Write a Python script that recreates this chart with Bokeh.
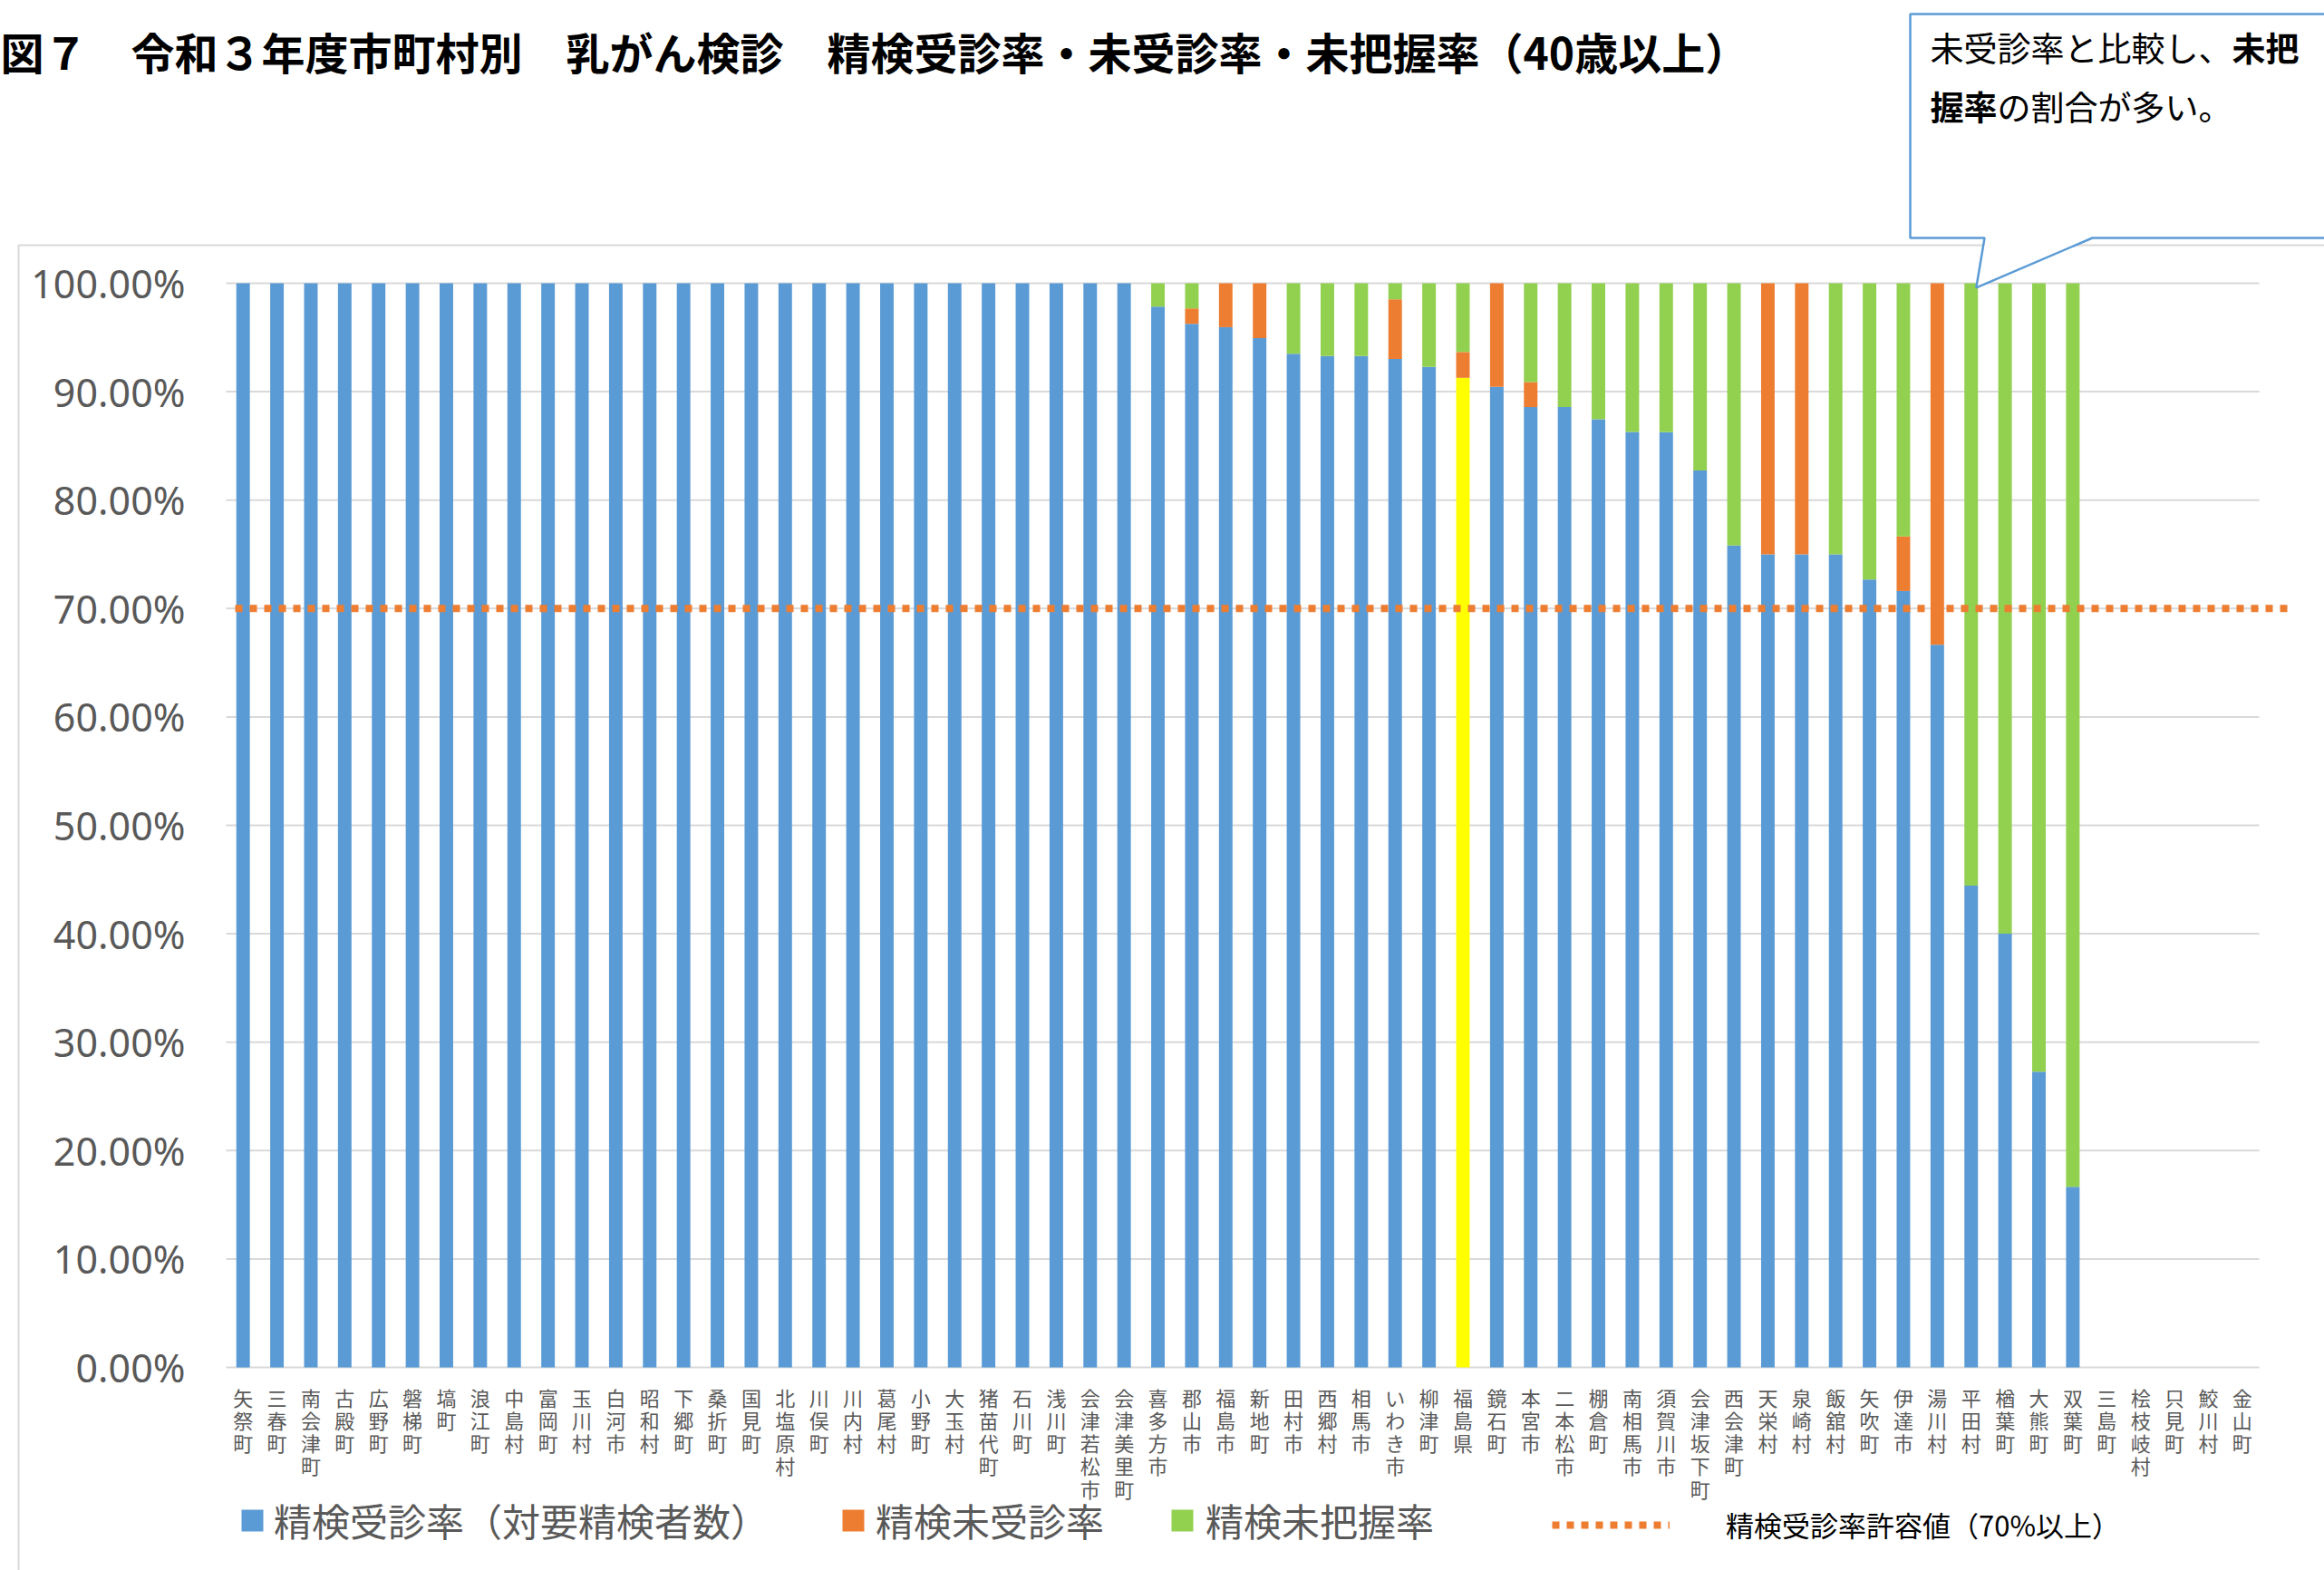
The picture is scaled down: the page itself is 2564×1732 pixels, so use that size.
from bokeh.plotting import figure
from bokeh.models import (Range1d, FixedTicker, PrintfTickFormatter, Label, Legend,
                          LegendItem, PolyAnnotation, ColumnDataSource)
from bokeh.embed import file_html
from bokeh.resources import INLINE

# ---------------- data ----------------
categories = [
    "矢祭町", "三春町", "南会津町", "古殿町", "広野町", "磐梯町", "塙町", "浪江町", "中島村", "富岡町",
    "玉川村", "白河市", "昭和村", "下郷町", "桑折町", "国見町", "北塩原村", "川俣町", "川内村", "葛尾村",
    "小野町", "大玉村", "猪苗代町", "石川町", "浅川町", "会津若松市", "会津美里町", "喜多方市", "郡山市", "福島市",
    "新地町", "田村市", "西郷村", "相馬市", "いわき市", "柳津町", "福島県", "鏡石町", "本宮市", "二本松市",
    "棚倉町", "南相馬市", "須賀川市", "会津坂下町", "西会津町", "天栄村", "泉崎村", "飯舘村", "矢吹町", "伊達市",
    "湯川村", "平田村", "楢葉町", "大熊町", "双葉町", "三島町", "桧枝岐村", "只見町", "鮫川村", "金山町",
]
# 精検受診率（対要精検者数）
received = [
    100, 100, 100, 100, 100, 100, 100, 100, 100, 100,
    100, 100, 100, 100, 100, 100, 100, 100, 100, 100,
    100, 100, 100, 100, 100, 100, 100, 97.85, 96.26, 95.95,
    94.94, 93.49, 93.30, 93.30, 93.02, 92.29, 91.28, 90.45, 88.58, 88.58,
    87.46, 86.28, 86.26, 82.74, 75.81, 75.00, 75.00, 75.00, 72.68, 71.62,
    66.67, 44.44, 40.00, 27.27, 16.67, 0, 0, 0, 0, 0,
]
# 精検未受診率
not_received = [
    0, 0, 0, 0, 0, 0, 0, 0, 0, 0,
    0, 0, 0, 0, 0, 0, 0, 0, 0, 0,
    0, 0, 0, 0, 0, 0, 0, 0, 1.42, 4.05,
    5.06, 0, 0, 0, 5.50, 0, 2.38, 9.55, 2.31, 0,
    0, 0, 0, 0, 0, 25.00, 25.00, 0, 0, 5.03,
    33.33, 0, 0, 0, 0, 0, 0, 0, 0, 0,
]
# 精検未把握率
unknown = [
    0, 0, 0, 0, 0, 0, 0, 0, 0, 0,
    0, 0, 0, 0, 0, 0, 0, 0, 0, 0,
    0, 0, 0, 0, 0, 0, 0, 2.15, 2.32, 0,
    0, 6.51, 6.70, 6.70, 1.48, 7.71, 6.34, 0, 9.11, 11.42,
    12.54, 13.72, 13.74, 17.26, 24.19, 0, 0, 25.00, 27.32, 23.35,
    0, 55.56, 60.00, 72.73, 83.33, 0, 0, 0, 0, 0,
]
threshold = 70
highlight = "福島県"
y_ticks = [0, 10, 20, 30, 40, 50, 60, 70, 80, 90, 100]

series_names = ["精検受診率（対要精検者数）", "精検未受診率", "精検未把握率"]
threshold_name = "精検受診率許容値（70%以上）"
title_text = "図７　令和３年度市町村別　乳がん検診　精検受診率・未受診率・未把握率（40歳以上）"
note_line1 = [("未受診率と比較し、", "normal"), ("未把", "bold")]
note_line2 = [("握率", "bold"), ("の割合が多い。", "normal")]

# ---------------- style / geometry ----------------
BLUE, ORANGE, GREEN, YELLOW = "#5B9BD5", "#ED7D31", "#92D050", "#FFFF00"
GRID = "#D9D9D9"
TXT = "#595959"
JP = "Noto Sans CJK JP"

W, H = 2564, 1732            # canvas size
PLOT_L, PLOT_R = 249, 2492   # canvas x of category area edges
PLOT_T, PLOT_B = 312, 1508   # canvas y of 100% and 0%
n = len(categories)

unit_x = (PLOT_R - PLOT_L) / n
unit_y = (PLOT_B - PLOT_T) / 100.0
x0 = -0.5 - PLOT_L / unit_x
x1 = x0 + W / unit_x
y0 = -(H - PLOT_B) / unit_y
y1 = y0 + H / unit_y

p = figure(width=W, height=H, output_backend="svg", toolbar_location=None,
           x_range=Range1d(x0, x1), y_range=Range1d(y0, y1),
           min_border=0, min_border_left=0, min_border_right=0,
           min_border_top=0, min_border_bottom=0,
           background_fill_color="white", border_fill_color="white")
p.title.visible = False
p.outline_line_color = None
p.grid.visible = False


def X(px):  # canvas pixel -> data x
    return x0 + px / unit_x


def Y(py):  # canvas pixel -> data y
    return y1 - py / unit_y


# outer chart border
p.add_layout(PolyAnnotation(xs=[X(20), X(20), X(2800), X(2800)],
                            ys=[Y(1900), Y(270), Y(270), Y(1900)],
                            fill_alpha=0, line_color=GRID, line_alpha=1, line_width=2,
                            level="underlay"))

# gridlines (only across the category area)
p.segment(x0=[-0.5] * len(y_ticks), x1=[n - 0.5] * len(y_ticks), y0=y_ticks, y1=y_ticks,
          line_color=GRID, line_width=2)

# stacked bars
xs = list(range(n))
o_top = [r + o for r, o in zip(received, not_received)]
g_top = [t + u for t, u in zip(o_top, unknown)]
bcol = [YELLOW if c == highlight else BLUE for c in categories]
src = ColumnDataSource(dict(x=xs, r=received, o0=received, o1=o_top, g0=o_top, g1=g_top, bc=bcol))

r_blue = p.vbar(x="x", bottom=0, top="r", width=0.4, fill_color="bc", line_color=None, source=src)
r_orange = p.vbar(x="x", bottom="o0", top="o1", width=0.4, fill_color=ORANGE, line_color=None, source=src)
r_green = p.vbar(x="x", bottom="g0", top="g1", width=0.4, fill_color=GREEN, line_color=None, source=src)

# threshold dotted line
r_thr = p.line(x=[X(259), X(2526)], y=[threshold, threshold], line_color=ORANGE,
               line_width=8, line_dash="8 8", line_cap="butt")

# axes (drawn at fixed data locations)
p.yaxis.fixed_location = -0.5
p.yaxis.ticker = FixedTicker(ticks=y_ticks)
p.yaxis.formatter = PrintfTickFormatter(format="%.2f%%")
p.yaxis.axis_line_color = None
p.yaxis.major_tick_line_color = None
p.yaxis.minor_tick_line_color = None
p.yaxis.major_label_standoff = 39
p.yaxis.major_label_text_font = "Noto Sans"
p.yaxis.major_label_text_font_size = "43px"
p.yaxis.major_label_text_color = TXT

p.xaxis.fixed_location = 0
p.xaxis.ticker = FixedTicker(ticks=xs)
p.xaxis.major_label_overrides = {i: "\n".join(c) for i, c in enumerate(categories)}
p.xaxis.axis_line_color = None
p.xaxis.major_tick_line_color = None
p.xaxis.minor_tick_line_color = None
p.xaxis.major_label_standoff = 10
p.xaxis.major_label_text_font = JP
p.xaxis.major_label_text_font_size = "22px"
p.xaxis.major_label_text_line_height = 0.79
p.xaxis.major_label_text_color = TXT
p.xaxis.major_label_orientation = "horizontal"


# legends (one item each, positioned below the plot)
def add_legend(label, rend, px, glyph_w, standoff, size, color, from_bottom):
    lg = Legend(items=[LegendItem(label=label, renderers=[rend], index=0)],
                location=(px, from_bottom), orientation="horizontal",
                glyph_width=glyph_w, glyph_height=30, label_standoff=standoff,
                padding=0, margin=0, spacing=0, border_line_color=None,
                background_fill_alpha=0, label_text_font=JP,
                label_text_font_size=size, label_text_color=color)
    p.add_layout(lg, "center")


add_legend(series_names[0], r_blue, 263, 30, 9, "42px", TXT, 25)
add_legend(series_names[1], r_orange, 926, 30, 10, "42px", TXT, 25)
add_legend(series_names[2], r_green, 1289, 30, 11, "42px", TXT, 25)
add_legend(threshold_name, r_thr, 1712, 130, 62, "31px", "#000000", 28)

# title
p.add_layout(Label(x=X(0), y=Y(55), text=title_text, text_font=JP, text_font_size="48px",
                   text_font_style="bold", text_color="#000000", text_baseline="alphabetic"))

# callout
tip_x = categories.index("平田村")
p.add_layout(PolyAnnotation(
    xs=[X(2107), X(2800), X(2800), X(2308), tip_x + 0.15, X(2189), X(2107)],
    ys=[Y(15), Y(15), Y(262), Y(262), 99.6, Y(262), Y(262)],
    fill_color="white", fill_alpha=1, line_color=BLUE, line_alpha=1, line_width=2.5))

NOTE_SIZE = 37
for line, base in ((note_line1, 51), (note_line2, 116)):
    px = 2129
    for txt, style in line:
        p.add_layout(Label(x=X(px), y=Y(base), text=txt, text_font=JP,
                           text_font_size=f"{NOTE_SIZE}px", text_font_style=style,
                           text_color="#000000", text_baseline="alphabetic"))
        px += len(txt) * NOTE_SIZE

open("out.html", "w").write(file_html(p, INLINE))
